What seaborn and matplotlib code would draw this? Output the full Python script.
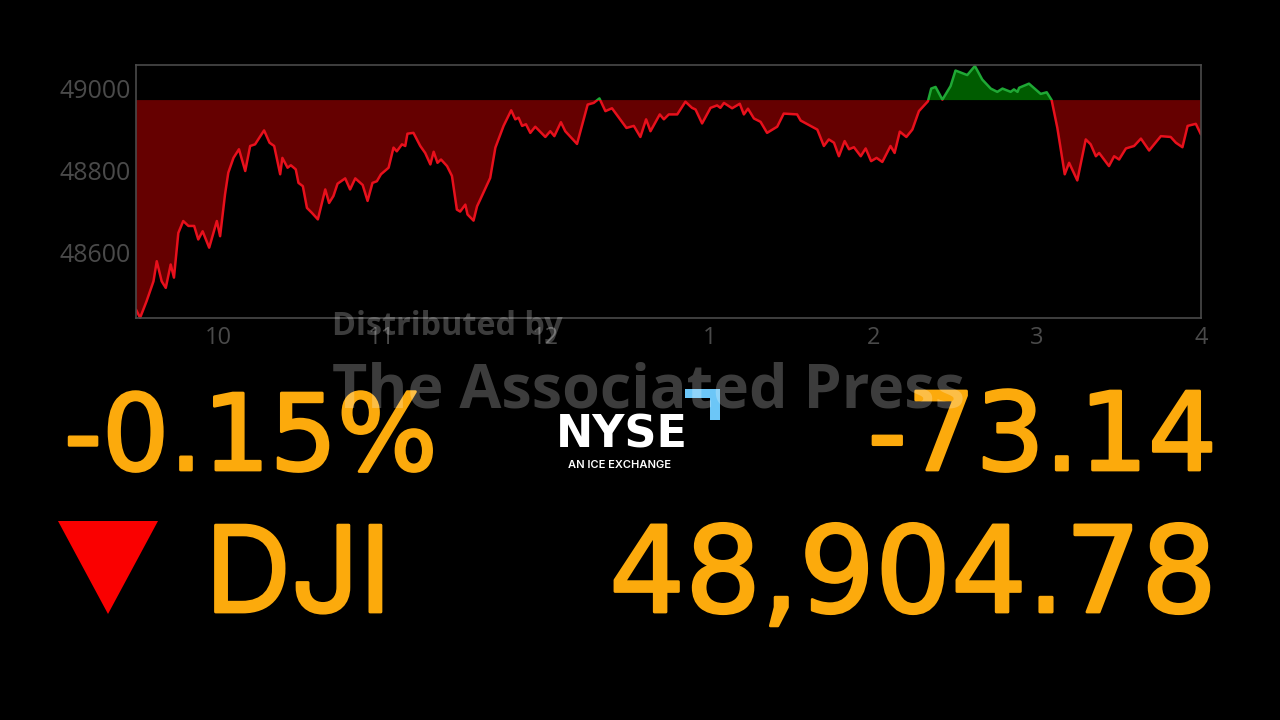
import matplotlib
matplotlib.use('Agg')
import matplotlib.pyplot as plt
import matplotlib.patheffects as pe
from matplotlib.patches import Polygon, Rectangle
from matplotlib.transforms import ScaledTranslation
import pandas as pd
import seaborn as sns

# minutes since the 9:30 open
minutes = [0, 1.5, 3.9, 6.4, 7.6, 9.4, 10.9, 12.7, 13.9, 15.5, 17.3, 19.2, 21.3, 22.8, 24.4, 26.8, 29.6, 30.8, 32.6, 33.8,
           35.7, 37.7, 40.0, 41.8, 43.6, 46.9, 48.9, 50.6, 52.8, 53.6, 55.5, 56.7, 58.5, 59.5, 61.1, 62.6, 64.4, 66.6, 69.3, 70.7,
           72.3, 73.8, 76.6, 78.4, 80.3, 83.0, 84.8, 86.6, 88.2, 89.7, 92.5, 94.3, 95.5, 97.4, 98.6, 99.4, 101.6, 104.1, 105.9, 107.8,
           109.0, 110.4, 111.7, 113.9, 115.7, 117.5, 118.7, 120.6, 121.4, 123.6, 124.9, 126.1, 129.7, 131.6, 134.6, 137.4, 138.9, 140.1, 141.4, 142.8,
           144.4, 146.2, 149.9, 151.7, 153.2, 155.6, 157.2, 161.5, 165.4, 167.6, 169.7, 171.9, 174.3, 179.6, 182.3, 184.7, 186.8, 188.4, 191.8, 193.3,
           195.1, 198.2, 201.2, 203.6, 204.9, 207.3, 210.4, 212.8, 214.0, 215.3, 218.3, 221.1, 222.6, 224.1, 226.3, 228.7, 231.1, 234.8, 237.2, 242.1,
           243.4, 249.5, 251.9, 253.7, 255.6, 257.4, 259.5, 261.1, 262.9, 265.4, 267.2, 269.2, 271.2, 273.3, 276.3, 277.8, 279.7, 282.1, 284.3, 286.7,
           290.0, 291.2, 292.8, 295.3, 296.5, 298.3, 300.1, 304.4, 307.2, 309.9, 313.0, 315.4, 317.3, 320.3, 321.5, 322.8, 323.4, 327.0, 331.3, 333.5,
           335.3, 337.4, 340.1, 341.7, 344.7, 347.8, 349.6, 351.5, 352.7, 356.3, 358.2, 360.0, 362.5, 365.5, 368.0, 371.0, 375.3, 378.9, 380.8, 383.2,
           385.1, 388.1, 390]
dji = [48467, 48447, 48488, 48536, 48585, 48536, 48520, 48577, 48545, 48654, 48683, 48671, 48671, 48638, 48658, 48618, 48683, 48646, 48748, 48801,
       48837, 48858, 48805, 48866, 48870, 48904, 48874, 48866, 48797, 48837, 48813, 48819, 48809, 48776, 48768, 48715, 48703, 48687, 48760, 48727,
       48744, 48774, 48787, 48760, 48787, 48771, 48732, 48776, 48780, 48797, 48813, 48862, 48853, 48870, 48866, 48896, 48898, 48866, 48849, 48821,
       48852, 48825, 48833, 48817, 48793, 48711, 48706, 48723, 48699, 48684, 48719, 48736, 48788, 48862, 48915, 48953, 48931, 48935, 48915, 48919,
       48898, 48913, 48888, 48902, 48890, 48924, 48902, 48871, 48967, 48971, 48982, 48951, 48958, 48910, 48915, 48888, 48931, 48902, 48943, 48931,
       48943, 48943, 48974, 48959, 48955, 48921, 48959, 48965, 48959, 48971, 48958, 48969, 48943, 48957, 48933, 48925, 48898, 48913, 48945, 48943,
       48928, 48906, 48866, 48882, 48874, 48841, 48878, 48858, 48863, 48841, 48860, 48829, 48837, 48827, 48866, 48849, 48901, 48888, 48906, 48951,
       48975, 49006, 49010, 48979, 48992, 49012, 49050, 49039, 49061, 49028, 49006, 48998, 49006, 48998, 49004, 48998, 49008, 49018, 48993, 48997,
       48978, 48910, 48797, 48825, 48782, 48882, 48870, 48841, 48849, 48817, 48841, 48833, 48860, 48866, 48884, 48855, 48890, 48888, 48874, 48863,
       48915, 48920, 48894]
prev_close = 48977.92

x_ticks = [30, 90, 150, 210, 270, 330, 390]
x_labels = ['10', '11', '12', '1', '2', '3', '4']
y_ticks = [48600, 48800, 49000]

pct_text = '-0.15%'
change_text = '-73.14'
name_text = 'DJI'
last_text = '48,904.78'

RED = '#e8101c'
GREEN = '#1fa835'
AMBER = '#fcaa0c'
GREY = '#4a4a4a'

sns.set_theme(style='dark', rc={'figure.facecolor': 'black', 'axes.facecolor': 'black', 'axes.edgecolor': '#4a4a4a'})
plt.rcParams['font.family'] = ['Open Sans', 'DejaVu Sans']

W, H = 1280, 720


def px(x, y):
    return x / W, 1 - y / H


df = pd.DataFrame({'minute': minutes, 'dji': dji})

fig = plt.figure(figsize=(12.8, 7.2), dpi=100)
ax = fig.add_axes([136 / W, 1 - 318 / H, 1065 / W, 253 / H])
ax.set_xlim(0, 390)
ax.set_ylim(48446.5, 49063.5)

# fill and line change colour at the previous close
ax.fill_between(df['minute'], df['dji'], prev_close, where=df['dji'] <= prev_close, interpolate=True, color='#650000', lw=0)
ax.fill_between(df['minute'], df['dji'], prev_close, where=df['dji'] >= prev_close, interpolate=True, color='#005c00', lw=0)

sns.lineplot(data=df, x='minute', y='dji', color=RED, lw=1.8, estimator=None, sort=False, ax=ax)
sns.lineplot(data=df, x='minute', y='dji', color=GREEN, lw=1.8, estimator=None, sort=False, ax=ax)
below = Rectangle((0, 48000), 390, prev_close - 48000, transform=ax.transData)
above = Rectangle((0, prev_close), 390, 500, transform=ax.transData)
ax.lines[0].set_clip_path(below)
ax.lines[1].set_clip_path(above)

ax.set_xlabel('')
ax.set_ylabel('')
ax.set_xticks(x_ticks, x_labels)
ax.set_yticks(y_ticks)
ax.tick_params(axis='x', colors=GREY, labelsize=17, length=0, pad=6)
ax.tick_params(axis='y', colors=GREY, labelsize=18, length=0, pad=4)
# y labels sit a little above their ticks in the original
nudge = ScaledTranslation(0, 2 / 72, fig.dpi_scale_trans)
for label in ax.get_yticklabels():
    label.set_transform(label.get_transform() + nudge)
ax.grid(False)
for spine in ax.spines.values():
    spine.set_color('#4a4a4a')
    spine.set_linewidth(1.2)

# big read-out below the chart
stroke = [pe.withStroke(linewidth=2, foreground=AMBER)]
big = {'family': ['DejaVu Sans'], 'color': AMBER, 'va': 'baseline', 'path_effects': stroke}
fig.text(*px(64, 470), pct_text, fontsize=76, ha='left', **big)
fig.text(*px(1217, 470), change_text, fontsize=78, ha='right', **big)
fig.text(*px(205, 612), name_text, family=['Inter', 'DejaVu Sans'], fontsize=86, color=AMBER, ha='left', va='baseline', path_effects=stroke)
fig.text(*px(1217, 612), last_text, fontsize=86, ha='right', **big)

# down arrow
fig.add_artist(Polygon([px(58, 521), px(158, 521), px(108, 614)], closed=True, color='#fa0000', lw=0))

# NYSE logo
fig.text(*px(622, 447), 'NYSE', family=['DejaVu Sans'], fontsize=32, weight='bold', color='white', ha='center', va='baseline')
fig.text(*px(620, 468), 'AN ICE EXCHANGE', family=['Inter', 'DejaVu Sans'], fontsize=8, weight=600, color='white', ha='center', va='baseline')
fig.add_artist(Polygon([px(685, 389), px(720, 389), px(720, 420), px(710, 420), px(710, 398), px(685, 398)],
                       closed=True, color='#6cc6f7', lw=0))

# watermark
mark = {'family': ['Open Sans', 'DejaVu Sans'], 'weight': 'bold', 'color': 'white', 'alpha': 0.24, 'ha': 'left', 'va': 'baseline'}
fig.text(*px(332, 335), 'Distributed by', fontsize=23.3, **mark)
fig.text(*px(332, 408), 'The Associated Press', fontsize=43.8, **mark)

fig.savefig('out.png', dpi=100, facecolor='black')
